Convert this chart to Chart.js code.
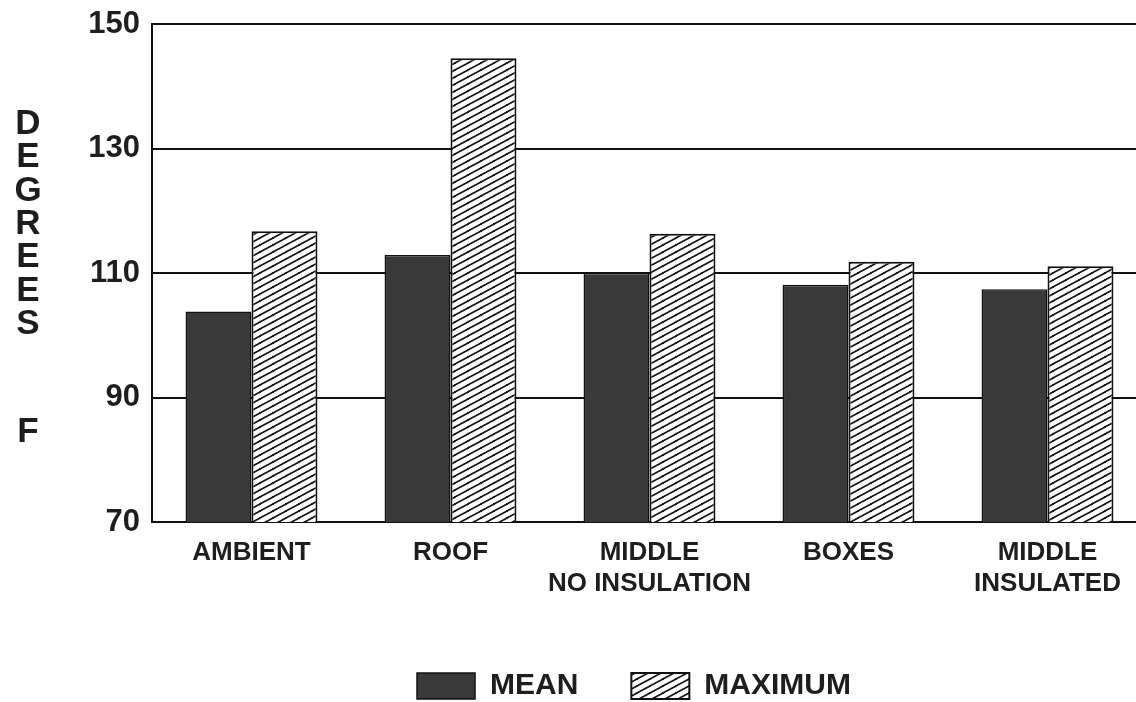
<!DOCTYPE html>
<html>
<head>
<meta charset="utf-8">
<script src="https://cdn.jsdelivr.net/npm/chart.js@4"></script>
<style>
  html, body { margin: 0; padding: 0; background: #fff; overflow: hidden; }
  #wrap { width: 1136px; height: 702px; overflow: hidden; position: relative; }
  #box { width: 1160px; height: 702px; position: absolute; left: 0; top: 0; }
</style>
</head>
<body>
<div id="wrap"><div id="box"><canvas id="c" width="1160" height="702"></canvas></div></div>
<script>
const categories = ['AMBIENT', 'ROOF', ['MIDDLE', 'NO INSULATION'], 'BOXES', ['MIDDLE', 'INSULATED']];
const meanValues = [103.8, 112.9, 110.0, 108.1, 107.4];
const maxValues = [116.7, 144.5, 116.3, 111.8, 111.1];
const seriesNames = ['MEAN', 'MAXIMUM'];
const yTicks = [70, 90, 110, 130, 150];
const axisTitleLetters = ['D', 'E', 'G', 'R', 'E', 'E', 'S', 'F'];

const FONT = "'Liberation Sans', Arial, Helvetica, sans-serif";
const INK = '#1e1e1e';

function makeHatch() {
  const w = 13, h = 7;
  const c = document.createElement('canvas');
  c.width = w; c.height = h;
  const g = c.getContext('2d');
  g.fillStyle = '#ffffff';
  g.fillRect(0, 0, w, h);
  g.strokeStyle = '#111';
  g.lineWidth = 1.6;
  g.lineCap = 'square';
  for (const [dx, dy] of [[0,0],[-w,0],[w,0],[0,-h],[0,h]]) {
    g.beginPath();
    g.moveTo(0 + dx, h + dy);
    g.lineTo(w + dx, 0 + dy);
    g.stroke();
  }
  return g.createPattern(c, 'repeat');
}

const hatch = makeHatch();

const axisTitlePlugin = {
  id: 'axisTitleLetters',
  afterDraw(chart) {
    const ctx = chart.ctx;
    ctx.save();
    ctx.fillStyle = INK;
    ctx.font = "bold 35px " + FONT;
    ctx.textAlign = 'center';
    ctx.textBaseline = 'middle';
    const ys = [124, 157, 191, 224, 257, 291, 324, 432];
    axisTitleLetters.forEach((ch, i) => ctx.fillText(ch, 28, ys[i]));
    ctx.restore();
  }
};

// Centre the legend row under the plotted area as in the original figure
const legendShiftPlugin = {
  id: 'legendShift',
  afterLayout(chart) {
    const lg = chart.legend;
    if (!lg) return;
    const shift = 634 - (lg.left + lg.right) / 2;
    lg.left += shift;
    lg.right += shift;
  }
};

new Chart(document.getElementById('c'), {
  type: 'bar',
  data: {
    labels: categories,
    datasets: [
      {
        label: seriesNames[0],
        data: meanValues,
        backgroundColor: '#393939',
        borderColor: '#111',
        borderWidth: 1.5,
        barPercentage: 1.0,
        categoryPercentage: 0.663
      },
      {
        label: seriesNames[1],
        data: maxValues,
        backgroundColor: hatch,
        borderColor: '#111',
        borderWidth: 2,
        barPercentage: 1.0,
        categoryPercentage: 0.663
      }
    ]
  },
  options: {
    responsive: false,
    animation: false,
    devicePixelRatio: 1,
    layout: { padding: { left: 0, right: 13, top: 24, bottom: 0 } },
    plugins: {
      title: { display: false },
      tooltip: { enabled: false },
      legend: {
        position: 'bottom',
        align: 'center',
        maxHeight: 84,
        labels: {
          boxWidth: 58,
          boxHeight: 26,
          padding: 53,
          color: INK,
          font: { family: FONT, size: 30, weight: 'bold' }
        }
      }
    },
    scales: {
      x: {
        grid: { display: false, drawTicks: false },
        border: { display: true, color: '#111', width: 2 },
        ticks: {
          color: INK,
          padding: 15,
          maxRotation: 0,
          autoSkip: false,
          font: { family: FONT, size: 26, weight: 'bold', lineHeight: 1.2 }
        },
        afterFit(scale) { scale.height = 96; }
      },
      y: {
        min: 70,
        max: 150,
        grid: { color: '#111', lineWidth: 2, drawTicks: false },
        border: { display: true, color: '#111', width: 2 },
        afterBuildTicks(scale) { scale.ticks = yTicks.map(v => ({ value: v })); },
        ticks: {
          color: INK,
          padding: 12,
          font: { family: FONT, size: 31, weight: 'bold', lineHeight: 0.4 }
        },
        afterFit(scale) { scale.width = 152; }
      }
    }
  },
  plugins: [axisTitlePlugin, legendShiftPlugin]
});
</script>
</body>
</html>
